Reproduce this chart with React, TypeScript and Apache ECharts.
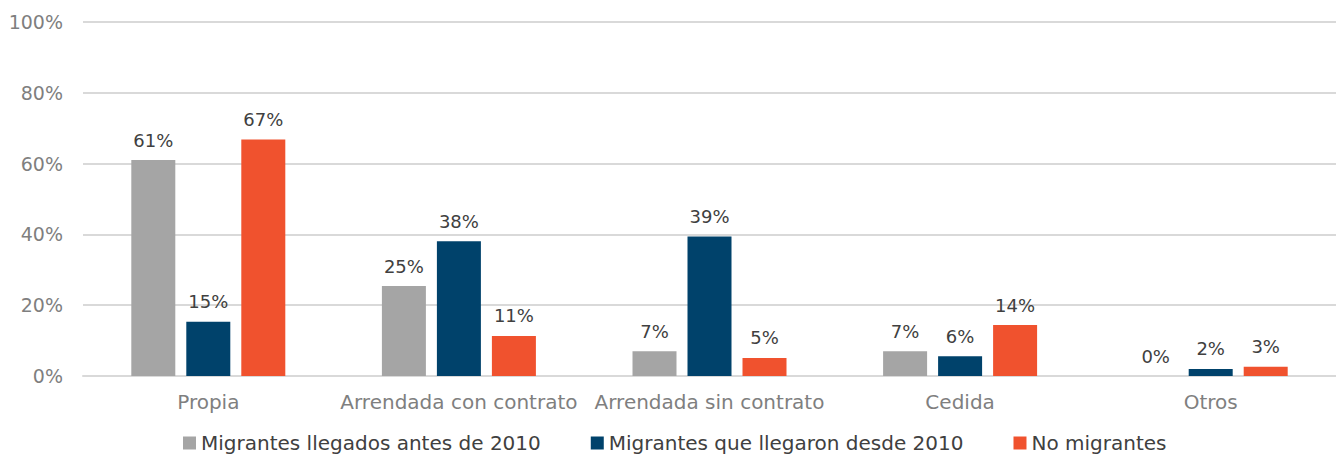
import React, { useEffect, useRef } from "react";
import * as echarts from "echarts";

const categories = ["Propia", "Arrendada con contrato", "Arrendada sin contrato", "Cedida", "Otros"];
const seriesNames = ["Migrantes llegados antes de 2010", "Migrantes que llegaron desde 2010", "No migrantes"];
const antes2010 = [61, 25.4, 7, 7, 0];
const desde2010 = [15.3, 38.1, 39.4, 5.6, 2];
const noMigrantes = [66.8, 11.3, 5.1, 14.4, 2.6];
const yTicks = [0, 20, 40, 60, 80, 100];
const colors = ["#a5a5a5", "#00426b", "#f0522e"];

const FONT = "DejaVu Sans";

export default function App() {
  const ref = useRef<HTMLDivElement>(null);
  useEffect(() => {
    document.body.style.margin = "0";
    if (!ref.current) return;
    const chart = echarts.init(ref.current, null, { renderer: "svg" });
    const mk = (name: string, data: number[], color: string) => ({
      name,
      type: "bar",
      data,
      barWidth: 44,
      barGap: "25%",
      itemStyle: { color },
      label: {
        show: true,
        position: "top",
        distance: 11,
        formatter: (p: any) => Math.round(p.value) + "%",
        color: "#404040",
        fontSize: 18,
        fontFamily: FONT,
      },
    });
    chart.setOption({
      animation: false,
      textStyle: { fontFamily: FONT },
      grid: { left: 83, right: 0, top: 22, bottom: 79, containLabel: false },
      legend: {
        data: seriesNames,
        top: 432,
        left: 183,
        padding: 0,
        itemWidth: 13,
        itemHeight: 13,
        itemGap: 50,
        icon: "rect",
        textStyle: { fontSize: 20, lineHeight: 22, color: "#404040", fontFamily: FONT },
      },
      xAxis: {
        type: "category",
        data: categories,
        axisTick: { show: false },
        axisLine: { lineStyle: { color: "#d9d9d9", width: 2 } },
        axisLabel: { color: "#7f7f7f", fontSize: 20, margin: 16, fontFamily: FONT, interval: 0 },
      },
      yAxis: {
        type: "value",
        min: yTicks[0],
        max: yTicks[yTicks.length - 1],
        interval: 20,
        axisLabel: { formatter: "{value}%", color: "#7f7f7f", fontSize: 19, margin: 20, fontFamily: FONT },
        splitLine: { lineStyle: { color: "#d9d9d9", width: 2 } },
        axisLine: { show: false },
        axisTick: { show: false },
      },
      series: [
        mk(seriesNames[0], antes2010, colors[0]),
        mk(seriesNames[1], desde2010, colors[1]),
        mk(seriesNames[2], noMigrantes, colors[2]),
      ],
    });
    return () => chart.dispose();
  }, []);
  return <div ref={ref} style={{ width: 1336, height: 455 }} />;
}
